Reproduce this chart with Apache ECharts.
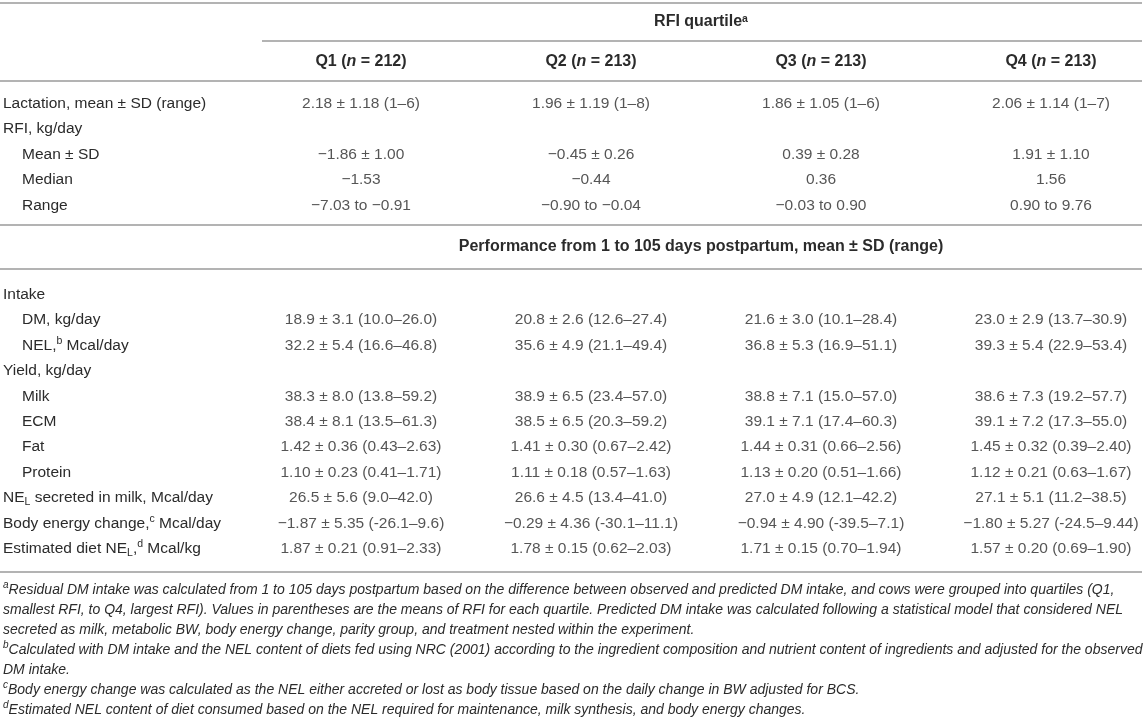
<!DOCTYPE html>
<html>
<head>
<meta charset="utf-8">
<title>RFI quartile table</title>
<script src="https://cdn.jsdelivr.net/npm/echarts@6/dist/echarts.min.js"></script>
<style>
  html, body { margin: 0; padding: 0; background: #fff; }
  #main { width: 1146px; height: 722px; }
</style>
</head>
<body>
<div id="main"></div>
<script>
const quartiles = ['Q1', 'Q2', 'Q3', 'Q4'];
const cowCounts = [212, 213, 213, 213];

// rows starting with two spaces are sub-items
const topItems = ['Lactation, mean ± SD (range)', 'RFI, kg/day', '  Mean ± SD', '  Median', '  Range'];
const lactation = ['2.18 ± 1.18 (1–6)', '1.96 ± 1.19 (1–8)', '1.86 ± 1.05 (1–6)', '2.06 ± 1.14 (1–7)'];
const rfiMeanSd = ['−1.86 ± 1.00', '−0.45 ± 0.26', '0.39 ± 0.28', '1.91 ± 1.10'];
const rfiMedian = ['−1.53', '−0.44', '0.36', '1.56'];
const rfiRange = ['−7.03 to −0.91', '−0.90 to −0.04', '−0.03 to 0.90', '0.90 to 9.76'];

const perfTitle = 'Performance from 1 to 105 days postpartum, mean ± SD (range)';
const perfItems = [
  'Intake', '  DM, kg/day', '  NEL,{sup|b} Mcal/day', 'Yield, kg/day', '  Milk', '  ECM', '  Fat', '  Protein',
  'NE{sub|L} secreted in milk, Mcal/day', 'Body energy change,{sup|c} Mcal/day', 'Estimated diet NE{sub|L},{sup|d} Mcal/kg',
];
const dmIntake = ['18.9 ± 3.1 (10.0–26.0)', '20.8 ± 2.6 (12.6–27.4)', '21.6 ± 3.0 (10.1–28.4)', '23.0 ± 2.9 (13.7–30.9)'];
const nelIntake = ['32.2 ± 5.4 (16.6–46.8)', '35.6 ± 4.9 (21.1–49.4)', '36.8 ± 5.3 (16.9–51.1)', '39.3 ± 5.4 (22.9–53.4)'];
const milkYield = ['38.3 ± 8.0 (13.8–59.2)', '38.9 ± 6.5 (23.4–57.0)', '38.8 ± 7.1 (15.0–57.0)', '38.6 ± 7.3 (19.2–57.7)'];
const ecmYield = ['38.4 ± 8.1 (13.5–61.3)', '38.5 ± 6.5 (20.3–59.2)', '39.1 ± 7.1 (17.4–60.3)', '39.1 ± 7.2 (17.3–55.0)'];
const fatYield = ['1.42 ± 0.36 (0.43–2.63)', '1.41 ± 0.30 (0.67–2.42)', '1.44 ± 0.31 (0.66–2.56)', '1.45 ± 0.32 (0.39–2.40)'];
const proteinYield = ['1.10 ± 0.23 (0.41–1.71)', '1.11 ± 0.18 (0.57–1.63)', '1.13 ± 0.20 (0.51–1.66)', '1.12 ± 0.21 (0.63–1.67)'];
const nelMilk = ['26.5 ± 5.6 (9.0–42.0)', '26.6 ± 4.5 (13.4–41.0)', '27.0 ± 4.9 (12.1–42.2)', '27.1 ± 5.1 (11.2–38.5)'];
const bodyEnergy = ['−1.87 ± 5.35 (-26.1–9.6)', '−0.29 ± 4.36 (-30.1–11.1)', '−0.94 ± 4.90 (-39.5–7.1)', '−1.80 ± 5.27 (-24.5–9.44)'];
const dietNel = ['1.87 ± 0.21 (0.91–2.33)', '1.78 ± 0.15 (0.62–2.03)', '1.71 ± 0.15 (0.70–1.94)', '1.57 ± 0.20 (0.69–1.90)'];

const footMarks = ['a', 'b', 'c', 'd'];
const footnotes = [
  'Residual DM intake was calculated from 1 to 105 days postpartum based on the difference between observed and predicted DM intake, and cows were grouped into quartiles (Q1,\n' +
  'smallest RFI, to Q4, largest RFI). Values in parentheses are the means of RFI for each quartile. Predicted DM intake was calculated following a statistical model that considered NEL\n' +
  'secreted as milk, metabolic BW, body energy change, parity group, and treatment nested within the experiment.',
  'Calculated with DM intake and the NEL content of diets fed using {link|NRC (2001)} according to the ingredient composition and nutrient content of ingredients and adjusted for the observed\n' +
  'DM intake.',
  'Body energy change was calculated as the NEL either accreted or lost as body tissue based on the daily change in BW adjusted for BCS.',
  'Estimated NEL content of diet consumed based on the NEL required for maintenance, milk synthesis, and body energy changes.',
];

const topCells = [lactation, [], rfiMeanSd, rfiMedian, rfiRange];
const perfCells = [[], dmIntake, nelIntake, [], milkYield, ecmYield, fatYield, proteinYield, nelMilk, bodyEnergy, dietNel];

const textColor = '#2b2b2b';
const ruleColor = '#b3b3b3';
const fontFamily = '"Liberation Sans", Arial, sans-serif';
const fontSize = 15.5;
const ruleY = [3, 81, 225, 269, 572];

const marks = {
  sup: { fontSize: 10.5, lineHeight: 12, verticalAlign: 'top', color: textColor, fontFamily },
  sub: { fontSize: 10.5, lineHeight: 12, verticalAlign: 'bottom', color: textColor, fontFamily },
  pad: { width: 19 },
};

function itemLabel(value) {
  return value.startsWith('  ') ? '{pad| }' + value.trim() : value;
}

function cellPoints(rows) {
  const points = [];
  rows.forEach((row, r) => row.forEach((text, q) => points.push([q, r, text])));
  return points;
}

function itemAxis(gridIndex, items) {
  return {
    type: 'category',
    gridIndex,
    data: items,
    inverse: true,
    axisLine: { show: false },
    axisTick: { show: false },
    splitLine: { show: false },
    axisLabel: {
      interval: 0,
      align: 'left',
      margin: 243,
      color: textColor,
      fontSize,
      fontFamily,
      lineHeight: 20,
      formatter: itemLabel,
      rich: marks,
    },
  };
}

function cellSeries(gridIndex, rows) {
  return {
    type: 'scatter',
    xAxisIndex: gridIndex,
    yAxisIndex: gridIndex,
    symbolSize: 0,
    silent: true,
    data: cellPoints(rows),
    label: {
      show: true,
      position: 'inside',
      color: textColor,
      fontSize,
      fontFamily,
      formatter: (p) => p.value[2],
    },
  };
}

const boldHead = { fontWeight: 'bold', fontSize: 16, fontFamily, color: textColor };

const rules = ruleY.map((y) => ({
  type: 'line',
  silent: true,
  shape: { x1: 0, y1: y, x2: 1142, y2: y },
  style: { stroke: ruleColor, lineWidth: 2 },
}));
rules.push({
  type: 'line',
  silent: true,
  shape: { x1: 262, y1: 41, x2: 1142, y2: 41 },
  style: { stroke: ruleColor, lineWidth: 2 },
});

const footStyle = { fontSize: 14, fontStyle: 'italic', fontFamily, color: textColor, lineHeight: 20 };
let footTop = 580;
const footTexts = footnotes.map((text, i) => {
  const el = {
    type: 'text',
    silent: true,
    x: 3,
    y: footTop,
    style: {
      text: '{mark|' + footMarks[i] + '}' + text,
      align: 'left',
      verticalAlign: 'top',
      fill: textColor,
      font: 'italic 14px ' + fontFamily,
      lineHeight: 20,
      rich: {
        mark: { fontSize: 10, fontStyle: 'italic', fontFamily, color: textColor, lineHeight: 12, verticalAlign: 'top' },
        link: Object.assign({}, footStyle, { color: '#8795a8' }),
      },
    },
  };
  footTop += text.split('\n').length * 20;
  return el;
});

const chart = echarts.init(document.getElementById('main'));
chart.setOption({
  animation: false,
  backgroundColor: '#fff',
  grid: [
    { left: 246, top: 90.5, width: 920, height: 127.5, containLabel: false, outerBoundsMode: 'none' },
    { left: 246, top: 282, width: 920, height: 279.4, containLabel: false, outerBoundsMode: 'none' },
  ],
  xAxis: [
    {
      type: 'category',
      gridIndex: 0,
      position: 'top',
      data: quartiles,
      axisLine: { show: false },
      axisTick: { show: false },
      splitLine: { show: false },
      axisLabel: {
        interval: 0,
        margin: 28.5,
        verticalAlign: 'middle',
        formatter: (value, idx) => `{b|${value} (}{bi|n}{b| = ${cowCounts[idx]})}`,
        rich: { b: boldHead, bi: Object.assign({ fontStyle: 'italic' }, boldHead) },
      },
      name: 'RFI quartile{sup|a}',
      nameLocation: 'middle',
      nameGap: 68.5,
      nameTextStyle: Object.assign({
        verticalAlign: 'middle',
        padding: [0, 10, 0, 0],
        rich: { sup: Object.assign({}, marks.sup, { fontWeight: 'bold' }) },
      }, boldHead),
    },
    {
      type: 'category',
      gridIndex: 1,
      position: 'top',
      data: quartiles,
      axisLine: { show: false },
      axisTick: { show: false },
      splitLine: { show: false },
      axisLabel: { show: false },
      name: perfTitle,
      nameLocation: 'middle',
      nameGap: 35,
      nameTextStyle: Object.assign({ verticalAlign: 'middle', padding: [0, 10, 0, 0] }, boldHead),
    },
  ],
  yAxis: [itemAxis(0, topItems), itemAxis(1, perfItems)],
  series: [cellSeries(0, topCells), cellSeries(1, perfCells)],
  graphic: rules.concat(footTexts),
});
</script>
</body>
</html>
